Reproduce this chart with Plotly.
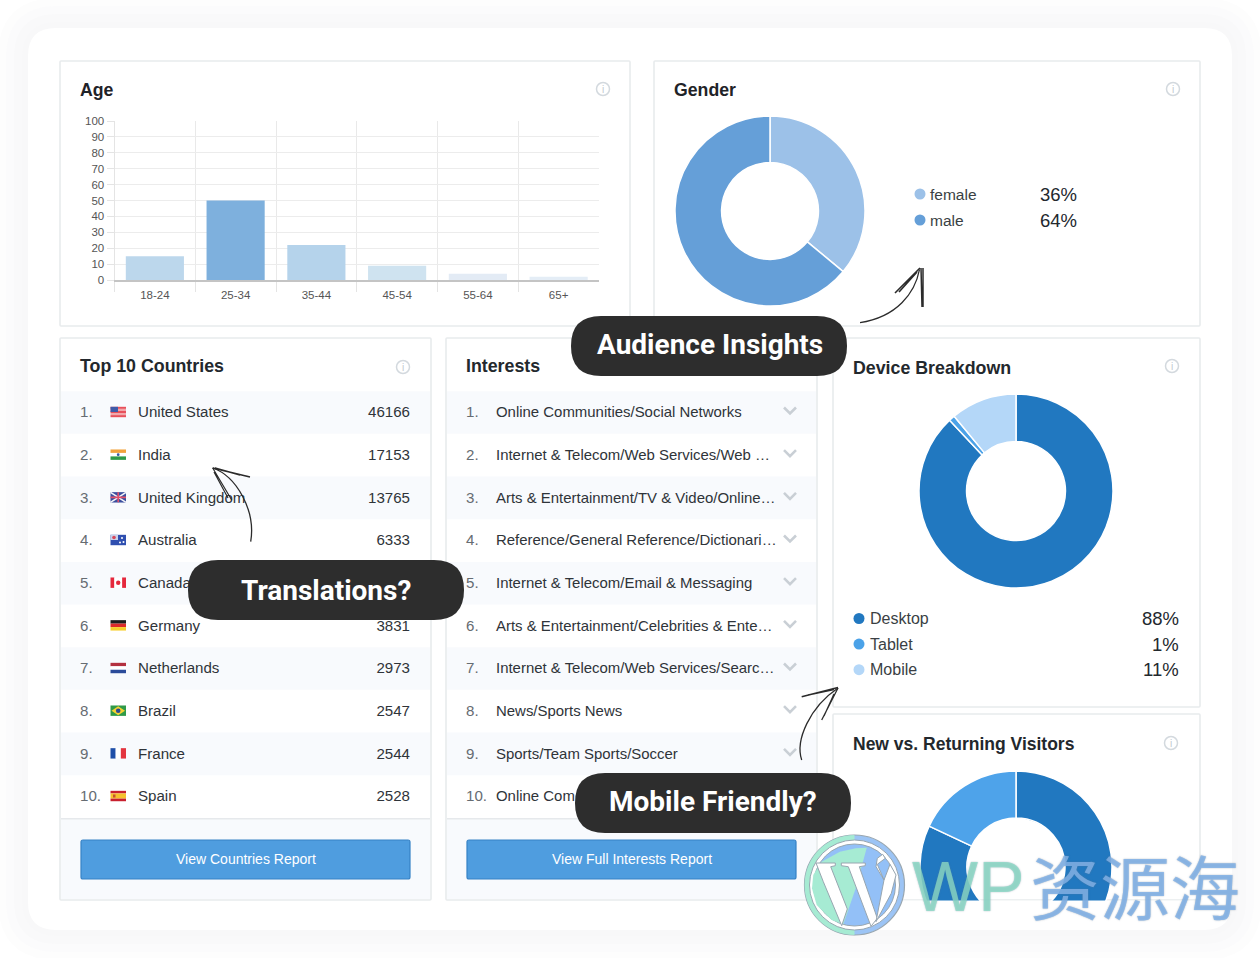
import plotly.graph_objects as go

# --- data ---
age_labels = ["18-24", "25-34", "35-44", "45-54", "55-64", "65+"]
age_values = [15, 50, 22, 9, 4, 2]
age_colors = ["#bcd7ec", "#7eb0dd", "#b5d3eb", "#cfe3f0", "#e3ebf5", "#e4edf6"]

gender_labels = ["female", "male"]
gender_values = [36, 64]
gender_colors = ["#9cc1e8", "#659fd8"]

device_labels = ["Desktop", "Tablet", "Mobile"]
device_values = [88, 1, 11]
device_colors = ["#2178c0", "#4ba2e8", "#b4d7f8"]

visitor_labels = ["New", "Returning"]
visitor_values = [82, 18]
visitor_colors = ["#2178c0", "#4ea3ea"]

countries = ["United States", "India", "United Kingdom", "Australia", "Canada",
             "Germany", "Netherlands", "Brazil", "France", "Spain"]
# Canada's number sits behind the Translations pill, so it can't be read
country_values = [46166, 17153, 13765, 6333, "", 3831, 2973, 2547, 2544, 2528]

# the last one is cut by the Mobile Friendly pill
interests = ["Online Communities/Social Networks",
             "Internet & Telecom/Web Services/Web \u2026",
             "Arts & Entertainment/TV & Video/Online\u2026",
             "Reference/General Reference/Dictionari\u2026",
             "Internet & Telecom/Email & Messaging",
             "Arts & Entertainment/Celebrities & Ente\u2026",
             "Internet & Telecom/Web Services/Searc\u2026",
             "News/Sports News",
             "Sports/Team Sports/Soccer",
             "Online Com"]

FONT = "Liberation Sans"
W, H = 1260, 1000  # page is cropped at 958, the last donut needs room below that
ROW0 = 412.5
ROWH = 42.67
row_y = [ROW0 + ROWH * i for i in range(10)]
text_y = [y + 1 for y in row_y]
ranks = [str(i + 1) + "." for i in range(10)]

shapes = []
notes = []


def rrect(x0, y0, x1, y1, r, fill, line=None, lw=0, layer="below"):
    p = (f"M {x0+r} {y0} L {x1-r} {y0} Q {x1} {y0} {x1} {y0+r} L {x1} {y1-r} Q {x1} {y1} {x1-r} {y1} "
         f"L {x0+r} {y1} Q {x0} {y1} {x0} {y1-r} L {x0} {y0+r} Q {x0} {y0} {x0+r} {y0} Z")
    shapes.append(dict(type="path", path=p, xref="x", yref="y", fillcolor=fill, layer=layer,
                       line=dict(color=line or fill, width=lw)))


def rect(x0, y0, x1, y1, fill, layer="below"):
    shapes.append(dict(type="rect", xref="x", yref="y", x0=x0, y0=y0, x1=x1, y1=y1,
                       fillcolor=fill, layer=layer, line=dict(width=0)))


def dot(cx, cy, r, fill, line=None, lw=0, layer="below"):
    shapes.append(dict(type="circle", xref="x", yref="y", x0=cx-r, y0=cy-r, x1=cx+r, y1=cy+r,
                       fillcolor=fill, layer=layer, line=dict(color=line or fill, width=lw)))


def stroke(path, color="#2b2b2b", lw=1.3, fill=None):
    shapes.append(dict(type="path", path=path, xref="x", yref="y", layer="above",
                       fillcolor=fill or "rgba(0,0,0,0)", line=dict(color=color, width=lw)))


def note(x, y, text, size=15, color="#23282d", anchor="left", bold=False, family=FONT, shadow="none"):
    notes.append(dict(x=x, y=y, xref="x", yref="y", text=text, showarrow=False, xanchor=anchor,
                      yanchor="middle", borderpad=0, borderwidth=0,
                      font=dict(family=family, size=size, color=color, weight="bold" if bold else "normal",
                                shadow=shadow)))


def info(cx, cy):
    dot(cx, cy, 6.5, "#ffffff", "#d3d9de", 1.5)
    note(cx, cy, "i", size=10, color="#c0c8cf", anchor="center")


# outer panel with soft shadow
SHADOW = [(30, "#fdfdfd"), (22, "#fbfbfc"), (14, "#f9f9fa"), (6, "#f8f8f9")]
for grow, col in SHADOW:
    rrect(28-grow, 28-grow, 1232+grow, 930+grow, 30+grow, col)
rrect(28, 28, 1232, 930, 28, "#ffffff")

# cards
BORDER = "#e8ebed"
for box in [(60, 61, 630, 326), (654, 61, 1200, 326), (60, 338, 431, 900),
            (446, 338, 817, 900), (833, 338, 1200, 707), (833, 714, 1200, 900)]:
    rrect(box[0], box[1], box[2], box[3], 1, "#ffffff", BORDER, 1.6)

# list rows, footers and buttons
STRIPE = "#f8fafd"
for x0, x1 in [(61, 430), (447, 816)]:
    for i in range(0, 10, 2):
        rect(x0, row_y[i]-21.3, x1, row_y[i]+21.3, STRIPE)
    rect(x0, 818, x1, 899, STRIPE)
    rect(x0, 818, x1, 819.5, "#e6e9ec")
    rrect(x0+20, 840, x0+349, 879, 2, "#4f9ddf", "#3682c6", 1.2)

# flags
FX0, FX1 = 110.5, 126


def bands(i, colors, vertical=False):
    top, h = row_y[i]-5.7, 10.4
    n = len(colors)
    for k, c in enumerate(colors):
        if vertical:
            w = (FX1-FX0)/n
            rect(FX0+k*w, top, FX0+(k+1)*w, top+h, c)
        else:
            rect(FX0, top+k*h/n, FX1, top+(k+1)*h/n, c)


bands(0, ["#e8505b", "#f2a6aa", "#e8505b", "#f2a6aa", "#e8505b"])
rect(FX0, row_y[0]-5.7, 118, row_y[0]-0.5, "#3e5aa8")
bands(1, ["#f2a23c", "#ffffff", "#2f9a48"])
dot(118.2, row_y[1]-0.5, 1.4, "#3b5aa0")
bands(2, ["#3b4f9f"])
stroke(f"M {FX0} {row_y[2]-5.5} L {FX1} {row_y[2]+4.5} M {FX0} {row_y[2]+4.5} L {FX1} {row_y[2]-5.5}", "#f4f4f8", 1.6)
stroke(f"M {FX0} {row_y[2]-0.5} L {FX1} {row_y[2]-0.5} M 118.2 {row_y[2]-5.5} L 118.2 {row_y[2]+4.5}", "#e0506a", 1.6)
bands(3, ["#2f4fb0"])
rect(FX0, row_y[3]-5.7, 118, row_y[3]-0.5, "#c9d2ea")
dot(114, row_y[3]-3, 1.8, "#d8485a")
dot(122, row_y[3]-2.5, 1, "#ffffff")
dot(120, row_y[3]+2, 1, "#ffffff")
dot(123.5, row_y[3]+1.5, 1, "#ffffff")
bands(4, ["#e5283c", "#ffffff", "#ffffff", "#e5283c"], True)
dot(118.2, row_y[4]-0.5, 2.2, "#e5283c")
bands(5, ["#1d1d1d", "#dc2a2a", "#f7ce2b"])
bands(6, ["#b3303f", "#ffffff", "#2b4b9a"])
bands(7, ["#2f9a48"])
shapes.append(dict(type="path", xref="x", yref="y", layer="below", fillcolor="#f5d233", line=dict(width=0),
                   path=f"M {FX0+1} {row_y[7]-0.5} L 118.2 {row_y[7]-5} L {FX1-1} {row_y[7]-0.5} L 118.2 {row_y[7]+4} Z"))
dot(118.2, row_y[7]-0.5, 2.3, "#2b4b8f")
bands(8, ["#1f4fa8", "#ffffff", "#e3343f"], True)
bands(9, ["#c8202e", "#f6c12c", "#f6c12c", "#c8202e"])
rect(113, row_y[9]-2, 115.5, row_y[9]+1, "#c8502e")

# chevrons
for y in row_y:
    stroke(f"M {784} {y-5} L {790} {y+1} L {796} {y-5}", "#c9cfd5", 2.6)
    shapes[-1]["layer"] = "below"

# titles and info icons
note(80, 90, "Age", 17.7, "#1f2328", bold=True)
note(674, 90, "Gender", 17.7, "#1f2328", bold=True)
note(80, 366, "Top 10 Countries", 17.8, "#23282d", bold=True)
note(466, 366, "Interests", 17.8, "#23282d", bold=True)
note(853, 368, "Device Breakdown", 17.8, "#23282d", bold=True)
note(853, 744, "New vs. Returning Visitors", 17.5, "#23282d", bold=True)
for pos in [(603, 89), (1173, 89), (403, 367), (1172, 366), (1171, 743)]:
    info(*pos)

# legends
for i, (lab, val) in enumerate(zip(gender_labels, gender_values)):
    y = 194 + 26*i
    dot(920, y, 5.5, gender_colors[i])
    note(930, y, lab, 15.5, "#3a3f44")
    note(1040, y, str(val) + "%", 18.5, "#23282d")
for i, (lab, val) in enumerate(zip(device_labels, device_values)):
    y = 618.5 + 25.6*i
    dot(859, y, 5.5, device_colors[i])
    note(870, y, lab, 16, "#3a3f44")
    note(1179, y, str(val) + "%", 18.5, "#23282d", anchor="right")

# button text
note(245.5, 859, "View Countries Report", 14, "#ffffff", anchor="center")
note(631.5, 859, "View Full Interests Report", 14, "#ffffff", anchor="center")

# bottom of the visitors donut is cut off by the card
rect(833, 900.5, 1200, 930, "#ffffff", layer="above")
prev = 930
for grow, col in reversed(SHADOW):
    rect(833, prev, 1200, 930+grow, col, layer="above")
    prev = 930+grow
rect(833, prev, 1200, H, "#ffffff", layer="above")

# hand drawn arrows
stroke("M 860 322.7 C 897 317 915 293 919.5 269.5")
stroke("M 920 268 L 895 293 M 917 272 L 899 292", lw=1.6)
stroke("M 921 268 L 922 307 M 923 268 L 923 307", lw=1.5)
stroke("M 250.7 541.7 C 256 510 236 476 212.7 468")
stroke("M 212.7 468 L 250 477 M 215 468 L 240 475", lw=1.6)
stroke("M 212.7 468 L 231.7 500 M 214 472 L 228 498", lw=1.2)
stroke("M 801.7 760 C 795 740 810 707 838 688")
stroke("M 838 687.5 L 801.7 696.7 M 834 689.5 L 808 695", lw=1.6)
stroke("M 838 688 L 821.7 720 M 834 694 L 824 716", lw=1.3)

# pills
for x0, y0, x1, y1 in [(571, 316, 847, 376), (188, 560, 464, 620), (575, 773, 851, 833)]:
    rrect(x0, y0, x1, y1, 30, "#2d2d2d", layer="above")
note(710, 344.5, "Audience Insights", 28, "#ffffff", anchor="center", bold=True, family="Roboto")
note(326, 590.5, "Translations?", 28, "#ffffff", anchor="center", bold=True, family="Roboto")
note(713, 801.5, "Mobile Friendly?", 28, "#ffffff", anchor="center", bold=True, family="Roboto")

# watermark logo
LX, LY = 790, 825
GREY = "#98a6b0"


def zpath(pts):
    return "M " + " L ".join(f"{LX+a/3:.1f} {LY+b/3:.1f}" for a, b in pts) + " Z"


dot(854.5, 885, 50, "#9cc4f5", GREY, 1.2, layer="above")
stroke("M 854.5 835 C 827 835 804.5 857 804.5 885 C 804.5 913 827 935 854.5 935", GREY, 0.1, "#a6ebd3")
dot(854.5, 885, 45, "#ffffff", GREY, 1, layer="above")
dot(854.5, 885, 41, "#93c0f7", GREY, 1, layer="above")
stroke(zpath([(230, 68), (198, 70), (150, 80), (95, 110), (70, 150), (66, 190), (80, 240), (125, 285), (160, 298), (197, 190)]),
       "#a6ebd3", 0.1, "#a6ebd3")
for poly in [[(78, 114), (136, 114), (136, 122), (122, 125), (172, 252), (155, 302), (100, 170)],
             [(154, 114), (226, 114), (226, 122), (208, 125), (262, 280), (243, 304), (175, 125), (154, 122)],
             [(262, 100), (278, 88), (286, 100), (262, 118), (282, 165), (300, 118), (318, 150), (304, 205), (258, 290), (282, 165), (258, 125)]]:
    stroke(zpath(poly), GREY, 1, "#ffffff")

# watermark text
OUTLINE = "0 0 1.5px rgba(105,125,145,0.9)"
note(912, 887, "WP", 70, "rgba(140,228,202,0.7)", family="Liberation Sans", shadow=OUTLINE)
note(1030, 884, "\u8d44\u6e90\u6d77", 70, "rgba(130,182,240,0.75)", family="Noto Sans CJK SC", shadow=OUTLINE)


def text_col(x, ys, labels, pos, color, size=15.1):
    return go.Scatter(x=[x]*len(ys), y=ys, text=labels, mode="text", textposition=pos, cliponaxis=False,
                      textfont=dict(family=FONT, size=size, color=color), hoverinfo="skip", showlegend=False)


fig = go.Figure()
# overlay in page pixels, holds the list tables
fig.add_trace(text_col(80, text_y, ranks, "middle right", "#666c72"))
fig.add_trace(text_col(138, text_y, countries, "middle right", "#2f3439"))
fig.add_trace(text_col(410, text_y, [str(v) for v in country_values], "middle left", "#2f3439"))
fig.add_trace(text_col(466, text_y, ranks, "middle right", "#666c72"))
fig.add_trace(text_col(496, text_y, interests, "middle right", "#2f3439", size=14.95))

fig.add_trace(go.Bar(x=age_labels, y=age_values, marker=dict(color=age_colors, line=dict(width=0)),
                     width=0.72, xaxis="x2", yaxis="y2", hoverinfo="skip", showlegend=False))


def donut(labels, values, colors, cx, cy, r, hole):
    return go.Pie(labels=labels, values=values, hole=hole, sort=False, direction="clockwise", rotation=0,
                  marker=dict(colors=colors, line=dict(color="#ffffff", width=1.5)), textinfo="none",
                  hoverinfo="skip", showlegend=False,
                  domain=dict(x=[(cx-r)/W, (cx+r)/W], y=[1-(cy+r)/H, 1-(cy-r)/H]))


fig.add_trace(donut(gender_labels, gender_values, gender_colors, 770, 211, 95, 0.51))
fig.add_trace(donut(device_labels, device_values, device_colors, 1016, 491, 97, 0.51))
fig.add_trace(donut(visitor_labels, visitor_values, visitor_colors, 1016, 867, 96, 0.51))

fig.update_layout(
    width=W, height=H, margin=dict(l=0, r=0, t=0, b=0, autoexpand=False), autosize=False,
    paper_bgcolor="#ffffff", plot_bgcolor="rgba(0,0,0,0)",
    shapes=shapes, annotations=notes,
    xaxis=dict(range=[0, W], domain=[0, 1], visible=False, fixedrange=True),
    yaxis=dict(range=[H, 0], domain=[0, 1], visible=False, fixedrange=True),
    xaxis2=dict(domain=[114.5/W, 599/W], anchor="y2", type="category", range=[-0.5, 5.5],
                tickson="boundaries", showgrid=True, gridcolor="#e9e9e9", gridwidth=1,
                ticks="outside", ticklen=10, tickcolor="#e4e4e4", showline=True, linecolor="#c4c4c4", linewidth=1.5,
                ticklabelstandoff=3,
                tickfont=dict(family=FONT, size=11.5, color="#555555"), fixedrange=True),
    yaxis2=dict(domain=[1-280/H, 1-121/H], anchor="x2", range=[0, 100], dtick=10,
                showgrid=True, gridcolor="#ececec", gridwidth=1, zeroline=False,
                ticks="outside", ticklen=7, tickcolor="#e4e4e4", showline=True, linecolor="#e4e4e4",
                tickfont=dict(family=FONT, size=11.5, color="#555555"), fixedrange=True),
)

fig.write_html("out.html", config=dict(displayModeBar=False),
               post_script="document.body.style.margin='0';document.documentElement.style.overflow='hidden';document.body.style.overflow='hidden';")
